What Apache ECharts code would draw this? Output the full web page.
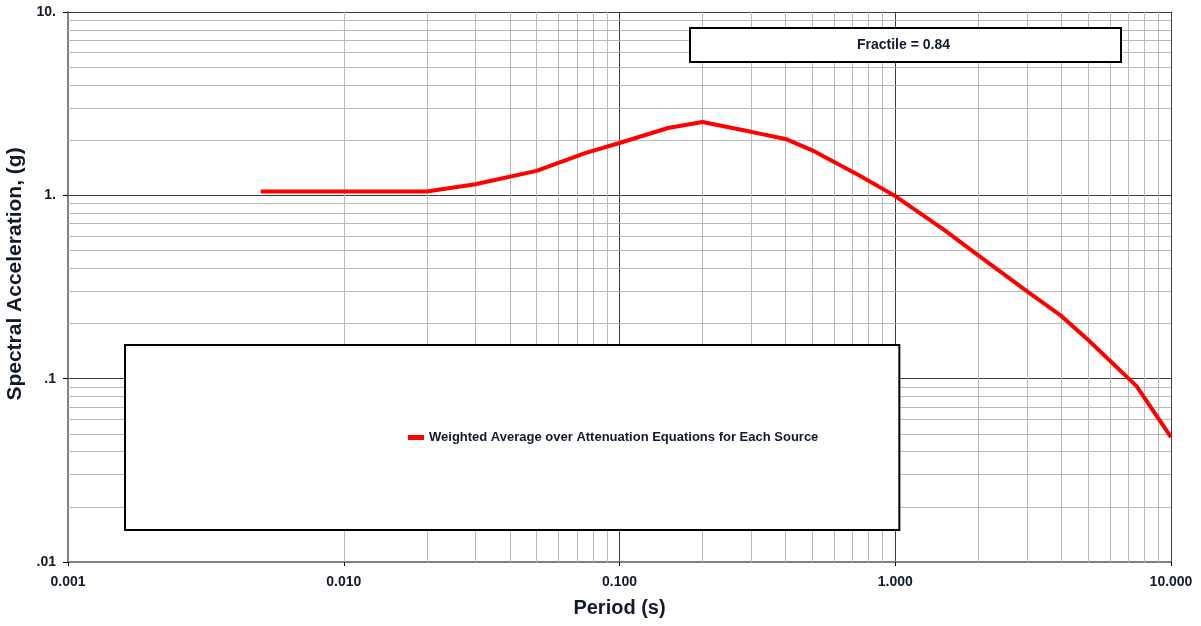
<!DOCTYPE html>
<html>
<head>
<meta charset="utf-8">
<script src="https://cdn.jsdelivr.net/npm/echarts@6/dist/echarts.min.js"></script>
<style>
  html, body { margin: 0; padding: 0; background: #fff; }
  #chart { width: 1201px; height: 626px; }
</style>
</head>
<body>
<div id="chart"></div>
<script>
// periods (s) and spectral acceleration (g)
const periods = [0.005, 0.01, 0.02, 0.03, 0.05, 0.075, 0.1, 0.15, 0.2, 0.3, 0.4, 0.5, 0.75, 1.0, 1.5, 2.0, 3.0, 4.0, 5.0, 7.5, 10.0];
const accel = [1.05, 1.05, 1.05, 1.15, 1.36, 1.70, 1.93, 2.33, 2.51, 2.22, 2.03, 1.76, 1.27, 0.99, 0.65, 0.47, 0.30, 0.22, 0.163, 0.091, 0.048];

const seriesName = 'Weighted Average over Attenuation Equations for Each Source';
const fractileText = 'Fractile = 0.84';

// tick labels, by decade exponent
const xTickLabels = { '-3': '0.001', '-2': '0.010', '-1': '0.100', '0': '1.000', '1': '10.000' };
const yTickLabels = { '-2': '.01', '-1': '.1', '0': '1.', '1': '10.' };

const xDecades = [-3, -2, -1, 0];
const yDecades = [-2, -1, 0];
const minorSteps = [2, 3, 4, 5, 6, 7, 8, 9];

// minor grid lines at 2..9 x 10^k
let minorLines = [];
xDecades.forEach(k => {
  minorSteps.forEach(m => minorLines.push({ xAxis: m * Math.pow(10, k) }));
});
yDecades.forEach(k => {
  minorSteps.forEach(m => minorLines.push({ yAxis: m * Math.pow(10, k) }));
});

const fontFam = 'Liberation Sans, Arial, sans-serif';
const textColor = '#111a2a';

let chartConfig = {
  animation: false,
  grid: {
    left: 68,
    right: 30,
    top: 12,
    bottom: 64,
    containLabel: false,
    outerBoundsMode: 'none'
  },
  title: {
    text: fractileText,
    left: 690,
    top: 28,
    z: 10,
    padding: [10, 171, 10, 167],
    backgroundColor: '#fff',
    borderColor: '#000',
    borderWidth: 2,
    textStyle: {
      fontFamily: fontFam,
      fontWeight: 'bold',
      fontSize: 14,
      color: textColor
    }
  },
  legend: {
    data: [seriesName],
    left: 125,
    top: 345,
    z: 10,
    orient: 'vertical',
    padding: [86, 81, 86, 283],
    backgroundColor: '#fff',
    borderColor: '#000',
    borderWidth: 2,
    icon: 'rect',
    itemWidth: 16,
    itemHeight: 5,
    itemGap: 0,
    textStyle: {
      fontFamily: fontFam,
      fontWeight: 'bold',
      fontSize: 13,
      color: textColor
    }
  },
  xAxis: {
    type: 'log',
    logBase: 10,
    min: 0.001,
    max: 10,
    name: 'Period (s)',
    nameLocation: 'middle',
    nameGap: 36,
    nameTextStyle: {
      fontFamily: fontFam,
      fontWeight: 'bold',
      fontSize: 20,
      color: textColor
    },
    axisLine: { lineStyle: { color: '#808080', width: 2 } },
    axisTick: { show: true, inside: false, length: 4, lineStyle: { color: '#000' } },
    axisLabel: {
      margin: 13,
      fontFamily: fontFam,
      fontWeight: 'bold',
      fontSize: 14,
      color: textColor,
      formatter: v => xTickLabels[String(Math.round(Math.log10(v)))] || ''
    },
    splitLine: { show: true, lineStyle: { color: '#3c3c3c', width: 1 } }
  },
  yAxis: {
    type: 'log',
    logBase: 10,
    min: 0.01,
    max: 10,
    name: 'Spectral Acceleration, (g)',
    nameLocation: 'middle',
    nameGap: 39,
    nameTextStyle: {
      fontFamily: fontFam,
      fontWeight: 'bold',
      fontSize: 21,
      color: textColor,
      padding: [0, 0, 0, 26]
    },
    axisLine: { lineStyle: { color: '#808080', width: 2 } },
    axisTick: { show: true, inside: false, length: 5, lineStyle: { color: '#000' } },
    axisLabel: {
      margin: 12,
      fontFamily: fontFam,
      fontWeight: 'bold',
      fontSize: 14,
      color: textColor,
      formatter: v => yTickLabels[String(Math.round(Math.log10(v)))] || ''
    },
    splitLine: { show: true, lineStyle: { color: '#3c3c3c', width: 1 } }
  },
  series: [
    {
      name: 'minor-grid',
      type: 'line',
      data: [],
      silent: true,
      z: 1,
      markLine: {
        silent: true,
        z: 1,
        symbol: ['none', 'none'],
        label: { show: false },
        animation: false,
        lineStyle: { color: '#b8b8b8', width: 1, type: 'solid' },
        emphasis: { disabled: true },
        data: minorLines
      }
    },
    {
      name: seriesName,
      type: 'line',
      z: 5,
      data: periods.map((p, i) => [p, accel[i]]),
      showSymbol: false,
      symbol: 'none',
      smooth: false,
      lineStyle: { color: '#ff0000', width: 4 },
      itemStyle: { color: '#ff0000' }
    }
  ]
};

let chart = echarts.init(document.getElementById('chart'));
chart.setOption(chartConfig);
window.addEventListener('resize', function () {
  chart.resize();
});
</script>
</body>
</html>
